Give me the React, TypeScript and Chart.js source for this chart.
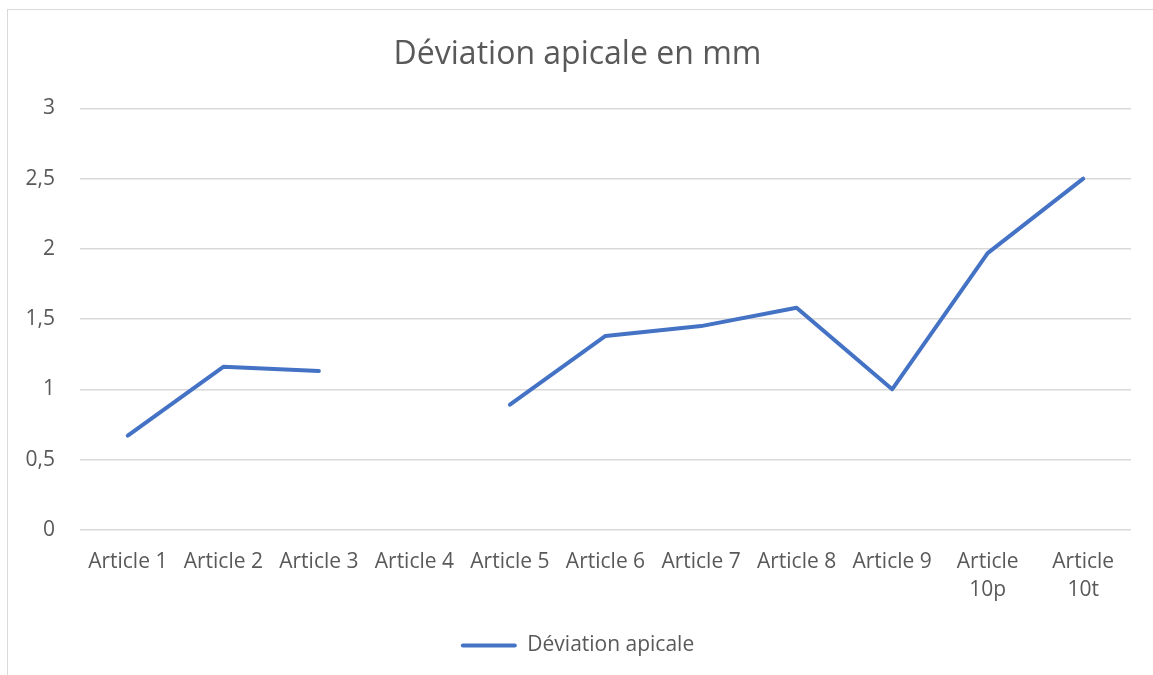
import React, { useEffect, useRef } from "react";
import { Chart, registerables } from "chart.js";

Chart.register(...registerables);

const categories: (string | string[])[] = [
  "Article 1", "Article 2", "Article 3", "Article 4", "Article 5", "Article 6",
  "Article 7", "Article 8", "Article 9", ["Article", "10p"], ["Article", "10t"],
];
const deviationApicale: (number | null)[] = [0.67, 1.16, 1.13, null, 0.89, 1.38, 1.45, 1.58, 1.0, 1.97, 2.5];
const yTicks = { min: 0, max: 3, step: 0.5 };
const titleText = "Déviation apicale en mm";
const seriesName = "Déviation apicale";

const FONT = "'Open Sans', sans-serif";
const TEXT = "#595959";
const BLUE = "#4472C4";

export default function App() {
  const ref = useRef<HTMLCanvasElement | null>(null);
  useEffect(() => {
    if (!ref.current) return;
    const chart = new Chart(ref.current, {
      type: "line",
      data: {
        labels: categories,
        datasets: [
          {
            label: seriesName,
            data: deviationApicale,
            borderColor: BLUE,
            backgroundColor: BLUE,
            borderWidth: 4,
            pointRadius: 0,
            tension: 0,
            spanGaps: false,
            borderCapStyle: "round",
            borderJoinStyle: "round",
          },
        ],
      },
      options: {
        animation: false,
        responsive: false,
        maintainAspectRatio: false,
        layout: { padding: { left: 16, right: 22, top: 0, bottom: 9 } },
        plugins: {
          title: {
            display: true,
            text: titleText,
            color: TEXT,
            font: { family: FONT, size: 32, weight: "normal" },
            padding: { top: 26, bottom: 34 },
          },
          legend: {
            position: "bottom",
            labels: {
              color: TEXT,
              font: { family: FONT, size: 21 },
              boxWidth: 56,
              boxHeight: 4,
              padding: 10,
              generateLabels: (c: any) =>
                c.data.datasets.map((d: any, i: number) => ({
                  text: d.label,
                  fillStyle: BLUE,
                  strokeStyle: BLUE,
                  lineWidth: 0,
                  borderRadius: 2,
                  datasetIndex: i,
                  fontColor: TEXT,
                })),
            },
          },
          tooltip: { enabled: false },
        },
        scales: {
          x: {
            offset: true,
            grid: { display: false },
            border: { display: false },
            afterFit: (s: any) => {
              s.height = s.height + 11.4;
            },
            ticks: {
              color: TEXT,
              font: { family: FONT, size: 21, lineHeight: 1.33 },
              maxRotation: 0,
              autoSkip: false,
              padding: 10,
            },
          },
          y: {
            min: yTicks.min,
            max: yTicks.max,
            grid: { color: "#d9d9d9", lineWidth: 1.5, drawTicks: false },
            border: { display: false },
            afterFit: (s: any) => {
              s.width = 56;
            },
            ticks: {
              stepSize: yTicks.step,
              color: TEXT,
              font: { family: FONT, size: 21 },
              padding: 25,
              callback: (v: any) => String(v).replace(".", ","),
            },
          },
        },
      },
    });
    return () => chart.destroy();
  }, []);
  return (
    <div
      style={{
        position: "fixed",
        left: 0,
        top: 0,
        width: "100vw",
        height: "100vh",
        overflow: "hidden",
        background: "#fff",
      }}
    >
      <div
        style={{
          position: "absolute",
          left: 7,
          top: 9,
          width: 1170,
          height: 680,
          borderLeft: "1.5px solid #d9d9d9",
          borderTop: "1.5px solid #d9d9d9",
          background: "#fff",
          boxSizing: "border-box",
        }}
      >
        <canvas ref={ref} width={1145} height={665} style={{ display: "block" }} />
      </div>
    </div>
  );
}
